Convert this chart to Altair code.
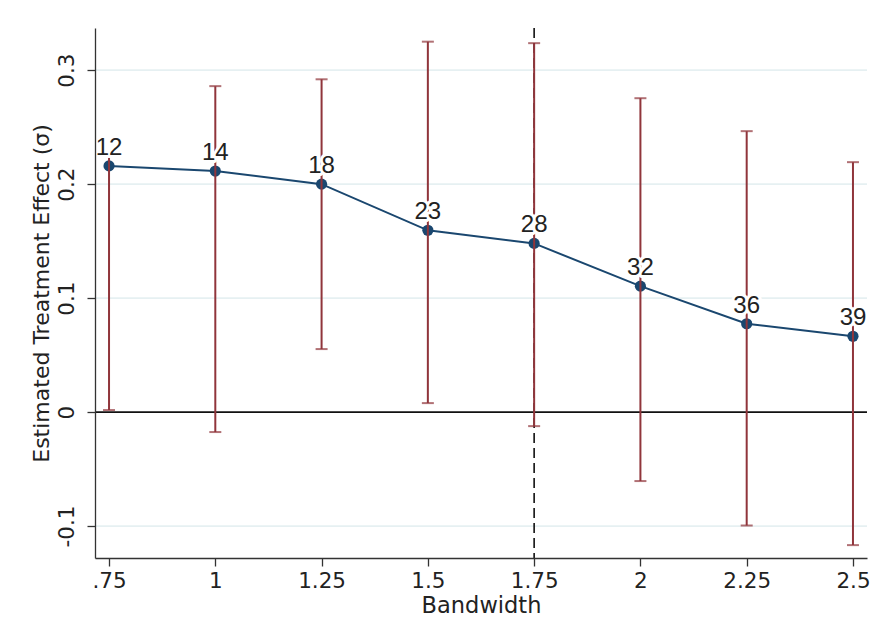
import altair as alt
import pandas as pd

# Data
bandwidth = [0.75, 1.0, 1.25, 1.5, 1.75, 2.0, 2.25, 2.5]
estimate = [0.216, 0.2115, 0.200, 0.1595, 0.148, 0.1105, 0.0775, 0.0665]
ci_low = [0.0018, -0.0175, 0.0553, 0.0079, -0.0123, -0.0605, -0.0995, -0.1167]
ci_high = [0.226, 0.286, 0.292, 0.325, 0.3237, 0.2754, 0.2465, 0.2193]
n_obs = ["12", "14", "18", "23", "28", "32", "36", "39"]

x_ticks = [0.75, 1.0, 1.25, 1.5, 1.75, 2.0, 2.25, 2.5]
x_tick_labels = [".75", "1", "1.25", "1.5", "1.75", "2", "2.25", "2.5"]
y_ticks = [-0.1, 0.0, 0.1, 0.2, 0.3]
y_tick_labels = ["-0.1", "0", "0.1", "0.2", "0.3"]
y_grid = [-0.1, 0.1, 0.2, 0.3]
cutoff = [1.75]
zero = [0.0]

x_domain = [0.717, 2.533]
y_domain = [-0.128, 0.337]

df = pd.DataFrame({"bw": bandwidth, "est": estimate, "lo": ci_low,
                   "hi": ci_high, "n": n_obs})


def label_expr(values, labels):
    expr = "''"
    for v, l in zip(reversed(values), reversed(labels)):
        expr = f"abs(datum.value - ({v})) < 1e-6 ? '{l}' : ({expr})"
    return expr


navy = "#1a476f"
maroon = "#90353b"
font_axis = "DejaVu Sans"
x_title = "Bandwidth"
y_title = "Estimated Treatment Effect (σ)"

xs = alt.Scale(domain=x_domain, nice=False, zero=False)
ys = alt.Scale(domain=y_domain, nice=False, zero=False)

x_axis = alt.Axis(values=x_ticks, labelExpr=label_expr(x_ticks, x_tick_labels),
                  grid=False, tickSize=8, labelPadding=4, titlePadding=3, zindex=1,
                  domainColor="#333333", tickColor="#333333",
                  domainWidth=1.3, tickWidth=1.3,
                  labelFont=font_axis, labelFontSize=21.5, labelColor="#222222",
                  titleFont=font_axis, titleFontSize=22.5, titleFontWeight="normal",
                  titleColor="#222222", labelFlush=False)
y_axis = alt.Axis(values=y_ticks, labelExpr=label_expr(y_ticks, y_tick_labels),
                  grid=False, tickSize=8, labelPadding=9, titlePadding=3, zindex=1,
                  labelAngle=270, labelAlign="center", labelBaseline="bottom",
                  domainColor="#333333", tickColor="#333333",
                  domainWidth=1.3, tickWidth=1.3,
                  labelFont=font_axis, labelFontSize=21.5, labelColor="#222222",
                  titleFont=font_axis, titleFontSize=22, titleFontWeight="normal",
                  titleColor="#222222", labelFlush=False)


def X(field):
    return alt.X(field, scale=xs, axis=x_axis, title=x_title)


def Y(field):
    return alt.Y(field, scale=ys, axis=y_axis, title=y_title)


grid = alt.Chart(pd.DataFrame({"g": y_grid})).mark_rule(
    color="#e6f0f2", strokeWidth=1.6).encode(y=Y("g:Q"))

zline = alt.Chart(pd.DataFrame({"z": zero})).mark_rule(
    color="#111111", strokeWidth=1.6).encode(y=Y("z:Q"))

vline = alt.Chart(pd.DataFrame({"c": cutoff})).mark_rule(
    color="#111111", strokeWidth=1.6, strokeDash=[10, 5]).encode(x=X("c:Q"))

base = alt.Chart(df)

line = base.mark_line(color=navy, strokeWidth=2).encode(x=X("bw:Q"), y=Y("est:Q"))
points = base.mark_circle(color=navy, opacity=1, size=125).encode(x=X("bw:Q"), y=Y("est:Q"))

bars = base.mark_rule(color=maroon, strokeWidth=2).encode(
    x=X("bw:Q"), y=Y("lo:Q"), y2="hi:Q")
cap_lo = base.mark_tick(color=maroon, orient="horizontal", size=12, thickness=2).encode(
    x=X("bw:Q"), y=Y("lo:Q"))
cap_hi = base.mark_tick(color=maroon, orient="horizontal", size=12, thickness=2).encode(
    x=X("bw:Q"), y=Y("hi:Q"))

halo = base.mark_text(font="Liberation Sans", fontSize=24, dy=-11, baseline="alphabetic",
                      color="white", stroke="white", strokeWidth=6,
                      strokeJoin="round").encode(
    x=X("bw:Q"), y=Y("est:Q"), text="n:N")
labels = base.mark_text(font="Liberation Sans", fontSize=24, dy=-11, baseline="alphabetic",
                        color="#222222").encode(
    x=X("bw:Q"), y=Y("est:Q"), text="n:N")

chart = alt.layer(grid, zline, vline, line, points, bars, cap_lo, cap_hi, halo, labels).properties(
    width=772, height=530,
    autosize=alt.AutoSizeParams(type="none"),
    padding={"left": 87, "top": 20, "right": 3, "bottom": 76},
    background="white",
).configure_view(stroke=None)

chart.save("out.html", embed_options={"renderer": "svg", "actions": False})
